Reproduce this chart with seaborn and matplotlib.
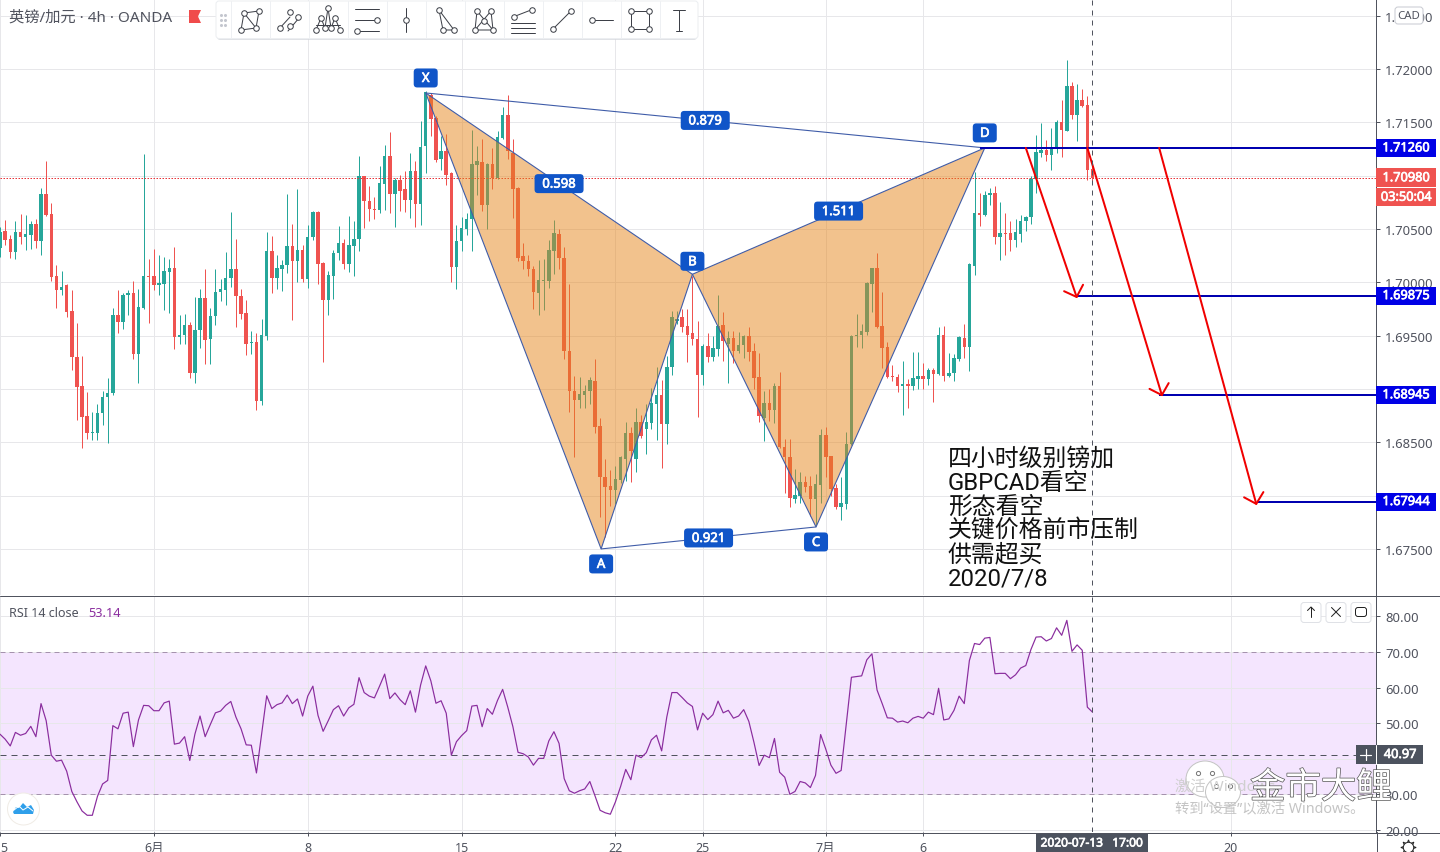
import numpy as np
import pandas as pd
import seaborn as sns
import matplotlib.pyplot as plt
import matplotlib.patheffects as pe
from matplotlib.patches import Rectangle, FancyBboxPatch, Circle, Ellipse, Polygon

# candles, in pips above 1.70000
high_pips = [
    52, 58, 44, 57, 64, 63, 57, 59, 88, 114,
    74, 16, 11, -2, -7, -38, -69, -103, -122, -114,
    -102, -90, -24, -7, -10, -7, 1, -6, 120, 22,
    31, 26, 24, 22, 33, -31, -30, -37, -14, -6,
    12, -24, 12, 3, 28, 66, 41, -6, -17, -46,
    -48, -34, 47, 43, 26, 21, 83, 55, 87, 35,
    54, 67, 67, 19, 11, 30, 53, 41, 62, 57,
    118, 100, 90, 80, 109, 129, 141, 98, 101, 104,
    121, 114, 151, 179, 177, 156, 137, 139, 103, 54,
    61, 65, 143, 128, 134, 112, 126, 142, 164, 176,
    134, 89, 37, 26, 15, 21, 22, 40, 58, 50,
    33, -2, -88, -89, -96, -89, -72, -127, -166, -176,
    -172, -163, -131, -136, -118, -124, -114, -99, -79, -92,
    -69, -27, -27, -25, -25, 6, -36, -58, -48, -50,
    -12, -28, -46, -46, -47, -49, -42, -57, -66, -102,
    -100, -94, -84, -147, -147, -175, -178, -182, -182, -180,
    -138, -136, -163, -189, -183, -140, -49, -30, -39, 0,
    13, 27, -9, -56, -78, -86, -74, -91, -65, -65,
    -76, -80, -80, -42, -41, -66, -67, -50, -39, 18,
    103, 84, 86, 88, 90, 75, 65, 57, 59, 63,
    62, 100, 138, 149, 133, 145, 152, 171, 208, 188,
    186, 181, 175, 112,
]
low_pips = [
    24, 35, 23, 22, 36, 30, 31, 32, 26, 62,
    1, -24, -12, -33, -82, -129, -155, -147, -148, -148,
    -134, -151, -106, -48, -44, -31, -72, -94, -25, -38,
    -7, -12, -26, -29, -63, -58, -58, -90, -94, -62,
    -77, -77, -40, -18, -21, -4, -42, -34, -68, -67,
    -120, -115, -54, -10, -6, -8, 9, -35, 0, 0,
    -5, 40, -2, -75, -31, -16, 21, 12, 10, 6,
    29, 51, 57, 59, 65, 68, 65, 52, 67, 66,
    60, 52, 54, 102, 137, 113, 105, 91, 0, -6,
    29, 44, 29, 82, 67, 50, 87, 97, 134, 116,
    60, 20, 12, 6, -25, -31, -26, -5, 8, 12,
    -72, -122, -164, -118, -118, -114, -141, -220, -239, -210,
    -208, -188, -186, -187, -178, -146, -161, -138, -148, -174,
    -152, -87, -39, -47, -75, -59, -126, -96, -75, -74,
    -69, -74, -94, -76, -66, -71, -74, -100, -131, -149,
    -130, -132, -155, -198, -211, -207, -207, -197, -219, -228,
    -207, -183, -200, -213, -223, -213, -153, -61, -62, -49,
    -28, -43, -80, -90, -93, -103, -124, -118, -101, -100,
    -100, -96, -112, -87, -93, -89, -93, -74, -71, -83,
    7, 53, 62, 72, 36, 21, 26, 29, 33, 38,
    48, 55, 84, 117, 114, 105, 121, 117, 142, 153,
    132, 164, 96, 95,
]
open_pips = [
    32, 48, 41, 28, 47, 42, 44, 55, 39, 83,
    64, 6, -7, -3, -27, -70, -97, -125, -141, -141,
    -123, -108, -104, -31, -37, -12, -10, -67, -24, 6,
    6, -3, -2, 10, 13, -51, -49, -40, -85, -45,
    -15, -53, -32, -9, -7, 4, 12, -13, -29, -57,
    -56, -111, -50, 29, 4, 12, 16, 34, 20, 30,
    3, 42, 66, 18, -17, 6, 27, 37, 17, 34,
    41, 100, 76, 69, 68, 92, 118, 83, 96, 87,
    77, 104, 73, 128, 176, 154, 116, 123, 102, 14,
    39, 50, 59, 110, 113, 72, 111, 98, 135, 157,
    121, 88, 25, 20, 12, -10, 1, 1, 29, 45,
    23, -64, -102, -110, -106, -102, -93, -135, -183, -191,
    -195, -185, -166, -141, -166, -131, -138, -132, -114, -106,
    -133, -79, -36, -33, -41, -48, -53, -87, -60, -70,
    -63, -40, -58, -52, -64, -59, -50, -64, -89, -127,
    -113, -120, -97, -154, -164, -203, -200, -187, -191, -203,
    -190, -143, -163, -193, -211, -208, -152, -50, -49, -47,
    -2, 13, -41, -61, -88, -89, -97, -95, -97, -91,
    -88, -91, -82, -86, -49, -88, -85, -72, -52, -61,
    15, 65, 63, 82, 84, 42, 46, 46, 40, 45,
    57, 61, 97, 121, 124, 119, 125, 150, 142, 184,
    157, 171, 166, 106,
]
close_pips = [
    47, 40, 28, 47, 42, 45, 55, 39, 83, 63,
    5, -7, -4, -28, -70, -98, -126, -141, -140, -123,
    -108, -104, -31, -37, -12, -10, -67, -23, 6, 5,
    -3, -1, 11, 13, -51, -49, -40, -85, -45, -15,
    -54, -32, -9, -6, 4, 12, -13, -30, -58, -56,
    -111, -49, 29, 4, 13, 16, 34, 20, 30, 3,
    42, 66, 17, -17, 7, 27, 37, 17, 35, 41,
    100, 76, 69, 68, 93, 118, 83, 96, 86, 77,
    104, 73, 127, 178, 153, 115, 123, 101, 14, 39,
    51, 59, 111, 114, 72, 111, 98, 136, 157, 123,
    87, 23, 20, 12, -9, 2, 2, 30, 46, 23,
    -64, -102, -110, -105, -102, -92, -136, -183, -192, -195,
    -184, -164, -141, -158, -131, -144, -131, -113, -106, -133,
    -79, -33, -34, -42, -49, -53, -87, -60, -70, -62,
    -41, -55, -52, -64, -59, -50, -65, -90, -125, -113,
    -120, -97, -154, -164, -202, -199, -187, -192, -203, -189,
    -143, -164, -194, -211, -207, -152, -50, -49, -46, -1,
    13, -42, -62, -89, -89, -97, -95, -97, -90, -88,
    -91, -82, -86, -49, -88, -85, -71, -51, -61, 17,
    65, 63, 82, 84, 42, 46, 45, 40, 47, 57,
    61, 97, 122, 124, 119, 127, 150, 143, 184, 157,
    171, 165, 105, 98,
]
rsi_values = [
    46.9, 45.5, 43.6, 47.4, 46.6, 47.1, 49.1, 46.2, 55.5, 50.7,
    41.0, 39.3, 39.6, 36.5, 30.8, 27.9, 25.3, 24.1, 24.1, 29.4,
    32.9, 33.9, 49.3, 48.4, 52.8, 53.1, 43.4, 50.9, 55.0, 54.9,
    53.5, 53.5, 55.7, 56.2, 44.1, 44.4, 46.2, 39.5, 46.9, 52.0,
    46.2, 49.6, 52.9, 53.4, 55.0, 56.1, 51.7, 48.4, 43.9, 43.8,
    36.0, 46.9, 57.7, 54.1, 55.2, 55.7, 57.9, 55.5, 56.8, 52.0,
    57.6, 60.4, 52.2, 47.7, 50.7, 53.8, 54.9, 52.0, 54.3, 55.3,
    62.8, 58.6, 57.6, 57.1, 60.4, 63.8, 56.9, 58.5, 56.6, 55.2,
    59.1, 53.1, 60.7, 66.1, 61.9, 55.6, 56.3, 52.8, 41.0, 44.8,
    46.5, 47.9, 54.8, 55.0, 49.0, 54.1, 52.5, 56.4, 59.5, 54.5,
    49.0, 41.8, 41.4, 40.5, 38.2, 40.1, 40.1, 45.0, 47.6, 44.3,
    34.4, 31.0, 30.3, 31.0, 31.5, 33.6, 29.6, 25.5, 24.8, 24.4,
    27.9, 32.2, 37.0, 34.1, 41.0, 40.3, 41.7, 45.3, 46.6, 42.2,
    51.7, 58.6, 58.6, 57.2, 55.7, 54.7, 48.1, 52.8, 51.0, 52.4,
    56.2, 52.9, 53.6, 51.4, 52.0, 53.8, 50.5, 44.6, 38.1, 41.0,
    40.3, 45.7, 36.2, 34.8, 30.0, 30.8, 33.6, 33.2, 31.9, 35.3,
    46.8, 42.7, 38.2, 35.9, 36.7, 49.8, 62.9, 63.1, 63.3, 67.8,
    69.5, 59.3, 55.5, 51.5, 51.4, 50.3, 50.6, 50.1, 51.4, 51.9,
    51.4, 53.1, 52.4, 59.8, 50.9, 51.2, 53.6, 57.6, 55.5, 67.6,
    72.4, 72.1, 73.9, 74.1, 63.9, 64.0, 64.0, 62.5, 63.6, 65.5,
    66.2, 70.7, 74.2, 74.3, 73.1, 73.8, 76.8, 74.7, 78.9, 70.2,
    72.0, 70.5, 54.5, 53.1,
]

# harmonic pattern points
pattern_names = ["X", "A", "B", "C", "D"]
pattern_bars = [83.0, 117.2, 135.0, 159.1, 192.0]
pattern_prices = [1.71775, 1.67500, 1.70075, 1.67706, 1.71260]
ratio_labels = ["0.879", "0.921", "0.598", "1.511"]
ratio_legs = [("X", "D"), ("A", "C"), ("X", "B"), ("B", "D")]

# blue levels and red arrows
level_prices = [1.71260, 1.69875, 1.68945, 1.67944]
level_labels = ["1.71260", "1.69875", "1.68945", "1.67944"]
level_starts = [191.0, 210.0, 226.0, 245.0]
arrow_start_bars = [200.0, 212.0, 226.0]
arrow_start_prices = [1.71260, 1.71260, 1.71260]
arrow_end_bars = [210.0, 226.6, 245.0]
arrow_end_prices = [1.69850, 1.68930, 1.67910]

price_ticks = [1.725, 1.72, 1.715, 1.71, 1.705, 1.70, 1.695, 1.69, 1.685, 1.68, 1.675]
rsi_ticks = [80, 70, 60, 50, 30, 20]
rsi_grid = [40]
date_ticks = [0, 30, 60, 90, 120, 137, 161, 180, 240]
date_labels = ["5", "6月", "8", "15", "22", "25", "7月", "6", "20"]
note_lines = ["四小时级别镑加", "GBPCAD看空", "形态看空", "关键价格前市压制", "供需超买", "2020/7/8"]

INK = "#50535e"
UP = "#26a69a"
DOWN = "#ef5350"
GRID = "#e7e7ea"
PURPLE = "#8a2d9e"
TAG_BLUE = "#1055c8"

sns.set_theme(style="white")
plt.rcParams["font.family"] = ["Noto Sans", "Noto Sans CJK SC", "DejaVu Sans"]
plt.rcParams["font.size"] = 9.2
plt.rcParams["axes.unicode_minus"] = False

W, H = 1440, 853
PX = 72 / 100  # one pixel in points
BOLD = [pe.withStroke(linewidth=0.5, foreground="white")]
fig = plt.figure(figsize=(W / 100, H / 100), dpi=100, facecolor="white")
ax = fig.add_axes([0, (H - 596) / H, 1376 / W, 596 / H])
ax_rsi = fig.add_axes([0, (H - 833) / H, 1376 / W, 236 / H])
top = fig.add_axes([0, 0, 1, 1], zorder=20)
top.set_xlim(0, W)
top.set_ylim(H, 0)
top.axis("off")
top.patch.set_alpha(0)

candles = pd.DataFrame({
    "bar": np.arange(len(close_pips)),
    "open": 1.7 + np.array(open_pips) / 1e4,
    "high": 1.7 + np.array(high_pips) / 1e4,
    "low": 1.7 + np.array(low_pips) / 1e4,
    "close": 1.7 + np.array(close_pips) / 1e4,
    "rsi": rsi_values,
})
candles["color"] = np.where(candles["close"] >= candles["open"], UP, DOWN)

BAR_PX = 5.129
XMAX = 1376 / BAR_PX
PRICE_TOP, PRICE_BOTTOM = 1.72656, 1.67068
PRICE_PER_PX = 0.00009375

# price panel
ax.set_xlim(0, XMAX)
ax.set_ylim(PRICE_BOTTOM, PRICE_TOP)
ax.vlines(candles["bar"], candles["low"], candles["high"], colors=candles["color"], lw=PX, zorder=2)
ax.bar(
    candles["bar"],
    np.maximum((candles["close"] - candles["open"]).abs(), 0.00008),
    bottom=candles[["open", "close"]].min(axis=1),
    width=0.68,
    color=candles["color"],
    linewidth=0,
    zorder=2.1,
)
ax.axhline(candles["close"].iloc[-1], color="#e8353a", lw=PX, ls=(0, (1.5, 1.5)), zorder=2.5)

points = dict(zip(pattern_names, zip(pattern_bars, pattern_prices)))
for tri in (["X", "A", "B"], ["B", "C", "D"]):
    corners = [points[n] for n in tri]
    ax.add_patch(Polygon(corners, closed=True, fc="#e6861c", alpha=0.5, lw=0, zorder=3))
    ax.add_patch(Polygon(corners, closed=True, fc="none", ec="#3f5ca8", lw=PX * 1.1, zorder=3.2))
for a, b in [("X", "D"), ("A", "C")]:
    ax.plot(*zip(points[a], points[b]), color="#3f5ca8", lw=PX * 1.1, zorder=3.2)

for price, start in zip(level_prices, level_starts):
    ax.plot([start, XMAX], [price, price], color="#0000b0", lw=PX * 2, zorder=4,
            solid_capstyle="butt")
for x0, y0, x1, y1 in zip(arrow_start_bars, arrow_start_prices, arrow_end_bars, arrow_end_prices):
    ax.annotate("", xy=(x1, y1), xytext=(x0, y0), zorder=5,
                arrowprops=dict(arrowstyle="->,head_length=0.38,head_width=0.4", color="#f00000",
                                lw=PX * 2, shrinkA=0, shrinkB=0, mutation_scale=18))


def label_box(point, text, w, h, dy=0):
    # blue tag, placed from a data point
    x, y = ax.transData.transform(point)
    y = H - y - dy
    top.add_patch(FancyBboxPatch((x - w / 2, y - h / 2), w, h, boxstyle="round,pad=0,rounding_size=3.5",
                                 fc=TAG_BLUE, ec="none", zorder=6))
    top.text(x, y + 0.5, text, color="white", fontsize=9.4, fontweight="bold", ha="center", va="center",
             zorder=7, path_effects=BOLD)


offsets = {"X": 15, "A": -15, "B": 13, "C": -15, "D": 15}
for name in pattern_names:
    label_box(points[name], name, 24, 19, offsets[name])
for label, (a, b) in zip(ratio_labels, ratio_legs):
    mid = ((points[a][0] + points[b][0]) / 2, (points[a][1] + points[b][1]) / 2)
    label_box(mid, label, 49, 19)


def price_tag(value, text, color, width=60, height=18, shift=0):
    # tag sitting on the price scale
    yt = ax.get_yaxis_transform()
    y = value - shift * PRICE_PER_PX
    ax.add_patch(Rectangle((1, y - height / 2 * PRICE_PER_PX), width / 1376, height * PRICE_PER_PX,
                           transform=yt, fc=color, ec="none", clip_on=False, zorder=8))
    ax.text(1 + 30 / 1376, y, text, transform=yt, color="white", ha="center", va="center",
            fontsize=9.2, fontweight="bold", zorder=9, clip_on=False, path_effects=BOLD)


for price, label in zip(level_prices, level_labels):
    price_tag(price, label, "#0000e6")
last_close = candles["close"].iloc[-1]
price_tag(last_close, "1.70980", DOWN, height=19)
price_tag(last_close, "03:50:04", DOWN, height=18, shift=19.5)

# rsi panel
ax_rsi.set_xlim(0, XMAX)
ax_rsi.set_ylim(19.4, 85.75)
ax_rsi.axhspan(30, 70, fc="#f4e5fe", ec="none", zorder=0.4)
ax_rsi.axhline(70, color="#a592ad", lw=PX, ls=(0, (5, 4)), zorder=1)
ax_rsi.axhline(30, color="#a592ad", lw=PX, ls=(0, (5, 4)), zorder=1)
ax_rsi.axhline(40.97, color=INK, lw=PX, ls=(0, (6, 5)), zorder=1.2)
sns.lineplot(data=candles, x="bar", y="rsi", ax=ax_rsi, color=PURPLE, lw=PX * 1.2, errorbar=None, zorder=3)
ax_rsi.set_xlabel("")
ax_rsi.set_ylabel("")

for panel in (ax, ax_rsi):
    panel.axvline(candles["bar"].iloc[-1], color=INK, lw=PX, ls=(0, (5, 5)), zorder=5)
    panel.set_axisbelow(True)
    panel.set_xticks(date_ticks)
    panel.yaxis.tick_right()
    panel.grid(True, color=GRID, lw=PX)
    panel.tick_params(axis="y", which="both", right=True, length=3, width=PX, color=INK,
                      labelcolor=INK, labelsize=9.4, pad=3.4)
    for side in ("top", "left", "bottom"):
        panel.spines[side].set_visible(False)
    panel.spines["right"].set_color(INK)
    panel.spines["right"].set_linewidth(PX)

ax.set_yticks(price_ticks)
ax.set_yticklabels([f"{t:.5f}" for t in price_ticks])
ax.tick_params(axis="x", length=0, labelbottom=False)
ax_rsi.set_yticks(rsi_ticks + rsi_grid)
ax_rsi.set_yticklabels([f"{t:.2f}" for t in rsi_ticks] + [""])
ax_rsi.set_xticklabels(date_labels)
ax_rsi.tick_params(axis="x", bottom=True, length=3, width=PX, color=INK, labelcolor=INK,
                   labelsize=9, pad=3.6)
ax_rsi.get_xticklabels()[0].set_ha("left")

# frame lines and everything that is drawn over the panels
top.plot([0, W], [596.5, 596.5], color=INK, lw=PX)
top.plot([0, W], [833.5, 833.5], color=INK, lw=PX)
top.plot([1376.5, 1376.5], [833, H], color=INK, lw=PX)

top.text(9, 18, "英镑/加元 · 4h · OANDA", color=INK, fontsize=11, va="center")
top.add_patch(Polygon([(189, 11), (201, 11), (198, 17.5), (201, 24), (189, 24)], fc="#f04b4b", ec="none"))

# toolbar
top.add_patch(FancyBboxPatch((217, 4), 480, 37, boxstyle="round,pad=0,rounding_size=3",
                             fc="#d4d6dc", ec="none", alpha=0.7))
top.add_patch(FancyBboxPatch((216, 2), 482, 37.5, boxstyle="round,pad=0,rounding_size=3",
                             fc="white", ec="#eceef1", lw=PX))
for row in (16, 21, 26):
    top.plot([221, 225], [row, row], ls="none", marker="o", ms=1.2, color="#c4c7cf")
for k in range(12):
    top.plot([230.5 + 39 * k] * 2, [2, 39], color="#eef0f3", lw=PX)


def icon(cx, lines=(), nodes=()):
    for line in lines:
        xs, ys = zip(*line)
        top.plot(np.array(xs) + cx, np.array(ys) + 21, color="#3d4048", lw=PX, solid_capstyle="round")
    if nodes:
        xs, ys = zip(*nodes)
        top.plot(np.array(xs) + cx, np.array(ys) + 21, ls="none", marker="o", ms=4, mfc="white",
                 mec="#3d4048", mew=PX)


q = [(-9, 10), (-6, -7), (9, -9), (6, 8)]
icon(250, [q + [q[0]], [q[1], q[3]]], q)
icon(289, [[(-10, 9), (1, -3)], [(-1, 11), (10, -2)]], [(-9, 8), (1, -8), (1, 6), (9, -3)])
m = [(-12, 10), (-7, -2), (-3, 8), (0, -12), (3, 8), (7, -2), (12, 10)]
icon(328, [m, [(-12, 5), (12, 5)]], m)
icon(367, [[(-12, -11), (12, -11)], [(-12, 0), (8, 0)], [(-8, 11), (12, 11)]], [(10, 0), (-10, 11)])
icon(406, [[(0, -12), (0, 12)]], [(0, 0)])
icon(445, [[(-6, -10), (-2, 10), (9, 10), (-6, -10)]], [(-6, -10), (-2, 10), (9, 10)])
n = [(-7, -9), (7, -9), (-9, 10), (9, 10), (0, 1)]
icon(484, [[n[2], n[0], n[3], n[1], n[2], n[3]]], n)
icon(523, [[(-10, -3), (8, -10)], [(-12, 3), (12, 3)], [(-12, 8), (12, 8)], [(-12, 13), (12, 13)]], [(-9, -3), (9, -10)])
icon(562, [[(-10, 10), (10, -10)]], [(-9, 9), (9, -9)])
icon(601, [[(-8, 0), (12, 0)]], [(-9, 0)])
s = [(-9, -9), (9, -9), (9, 9), (-9, 9)]
icon(640, [s + [s[0]]], s)
icon(679, [[(-6, -10), (6, -10)], [(0, -10), (0, 11)], [(-3, 11), (3, 11)]])

# CAD badge
top.add_patch(FancyBboxPatch((1395, 8), 28, 17, boxstyle="round,pad=0,rounding_size=3",
                             fc="white", ec="#c9cbd2", lw=PX))
top.text(1409, 16.5, "CAD", color=INK, fontsize=8.2, ha="center", va="center")

for i, line in enumerate(note_lines):
    top.text(948, 459 + 24 * i, line, color="#111111", fontsize=17.2, ha="left", va="center",
             family=["Roboto", "Noto Sans CJK SC"])

# rsi legend and buttons
top.text(9, 613.5, "RSI 14 close", color=INK, fontsize=9, va="center")
top.text(88, 613.5, "53.14", color=PURPLE, fontsize=9.2, va="center")
for cx in (1311, 1336, 1361):
    top.add_patch(FancyBboxPatch((cx - 10, 603.5), 20, 20, boxstyle="round,pad=0,rounding_size=3",
                                 fc="white", ec="#dfe1e6", lw=PX))
top.plot([1311, 1311], [608, 618], color="#222222", lw=PX)
top.plot([1307.5, 1311, 1314.5], [611.5, 608, 611.5], color="#222222", lw=PX)
top.plot([1331.5, 1340.5], [608.5, 617.5], color="#222222", lw=PX)
top.plot([1331.5, 1340.5], [617.5, 608.5], color="#222222", lw=PX)
top.add_patch(FancyBboxPatch((1355.5, 608.5), 11, 9, boxstyle="round,pad=0,rounding_size=2.5",
                             fc="white", ec="#222222", lw=PX))
top.plot([1358.5, 1363.5], [608.5, 608.5], color="white", lw=PX)
top.plot([1358.5, 1363.5], [617.5, 617.5], color="white", lw=PX)

# rsi crosshair tag
top.add_patch(Rectangle((1356, 746), 67, 19, fc="#4c525e", ec="none"))
top.plot([1376, 1376], [746, 765], color="white", lw=PX)
top.plot([1360, 1371], [755.5, 755.5], color="white", lw=PX * 1.2)
top.plot([1365.5, 1365.5], [750, 761], color="white", lw=PX * 1.2)
top.text(1400, 755.5, "40.97", color="white", fontsize=9.2, fontweight="bold", ha="center", va="center",
         path_effects=BOLD)

# date tag and gear
top.add_patch(Rectangle((1036, 834), 112, 19, fc="#4c525e", ec="none"))
top.text(1092, 844, "2020-07-13   17:00", color="white", fontsize=8.6, fontweight="bold", ha="center",
         va="center", path_effects=BOLD)
top.plot([1408], [848], ls="none", marker=(8, 1, 0), ms=11, mfc="white", mec="#222222", mew=PX)
top.plot([1408], [848], ls="none", marker="o", ms=7.5, mfc="white", mec="#222222", mew=PX)

# logo bottom left
top.add_patch(Circle((23.5, 810), 16, fc="white", ec="#f0ece6", lw=PX))
top.add_patch(Polygon([(13, 813), (16, 808), (19, 809), (23, 804), (27, 808), (31, 806), (34, 811),
                       (33, 815), (14, 815)], fc="#2f9fea", ec="none"))
top.plot([14, 19, 23, 28, 33], [811, 807, 811, 808, 812], color="white", lw=PX)

# windows and wechat watermarks
top.text(1175, 787, "激活 Windows", color="#cfcfcf", fontsize=11, va="center")
top.text(1175, 809, "转到“设置”以激活 Windows。", color="#c4c4c4", fontsize=10.3, va="center")
for cx, cy, w, h in [(1205, 780, 38, 36), (1223, 793, 35, 31)]:
    top.add_patch(Ellipse((cx, cy), w, h, fc="white", ec="#c4c4c4", lw=PX))
    top.plot([cx - 7, cx + 7], [cy - 6, cy - 6], ls="none", marker="o", ms=3, mfc="white", mec="#777777", mew=PX)
top.text(1250, 790, "金市大鲤", color="white", fontsize=25.5, va="center",
         path_effects=[pe.withStroke(linewidth=1.0, foreground="#555555")])

fig.savefig("out.png", dpi=100)
